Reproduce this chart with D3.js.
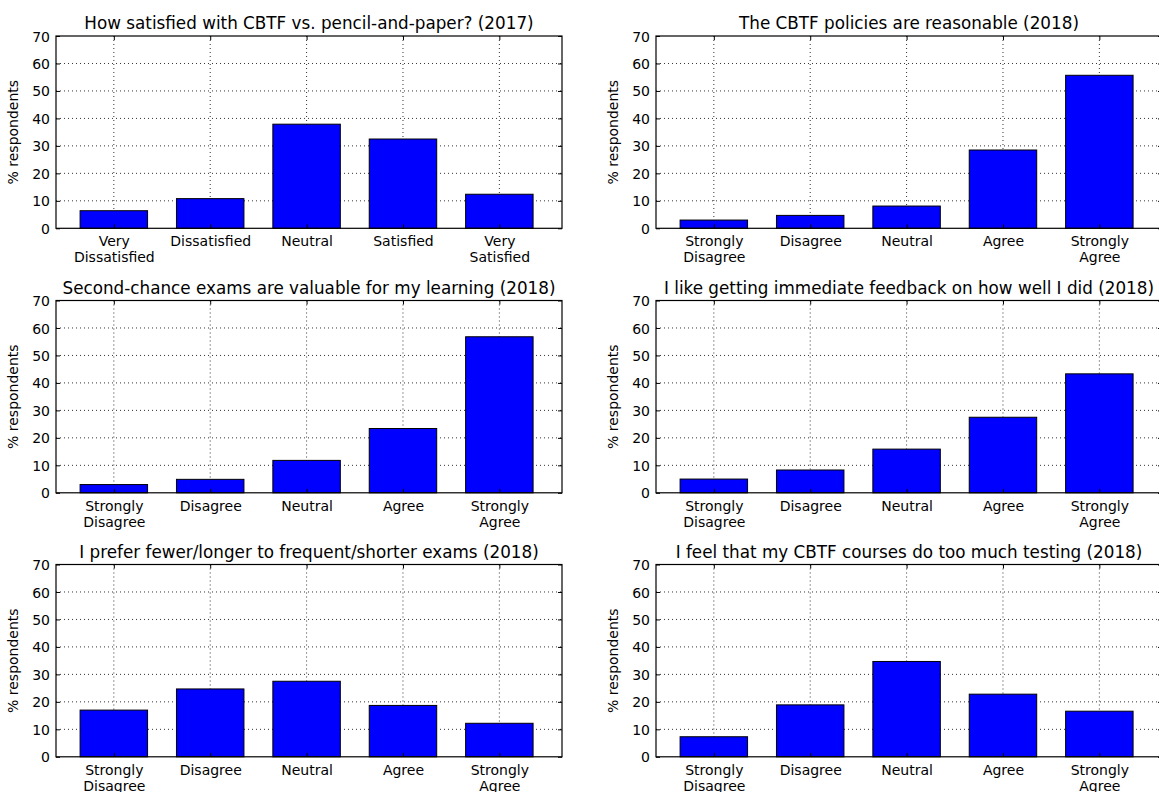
<!DOCTYPE html>
<html>
<head>
<meta charset="utf-8">
<script src="https://cdnjs.cloudflare.com/ajax/libs/d3/7.8.5/d3.min.js"></script>
<style>
  body { margin: 0; background: #fff; }
  svg { display: block; font-family: "DejaVu Sans", sans-serif; }
  .tick line { stroke: #000; }
  .tick text { font-family: "DejaVu Sans", sans-serif; font-size: 14px; fill: #000; }
</style>
</head>
<body>
<div id="chart"></div>
<script>

// survey data, % of respondents per answer
var satisfactionCats = ["Very\nDissatisfied", "Dissatisfied", "Neutral", "Satisfied", "Very\nSatisfied"];
var agreeCats = ["Strongly\nDisagree", "Disagree", "Neutral", "Agree", "Strongly\nAgree"];

var satisfied2017 = [6.4, 10.8, 37.9, 32.5, 12.4];
var policies2018 = [3.0, 4.7, 8.1, 28.5, 55.7];
var secondChance2018 = [3.0, 4.9, 11.8, 23.4, 56.8];
var feedback2018 = [5.0, 8.3, 15.9, 27.5, 43.3];
var fewerLonger2018 = [17.0, 24.7, 27.5, 18.7, 12.2];
var tooMuchTesting2018 = [7.3, 18.9, 34.7, 22.8, 16.6];

var titles = [
  "How satisfied with CBTF vs. pencil-and-paper? (2017)",
  "The CBTF policies are reasonable (2018)",
  "Second-chance exams are valuable for my learning (2018)",
  "I like getting immediate feedback on how well I did (2018)",
  "I prefer fewer/longer to frequent/shorter exams (2018)",
  "I feel that my CBTF courses do too much testing (2018)"
];

var yTicks = [0, 10, 20, 30, 40, 50, 60, 70];

var panels = [
  {title: titles[0], cats: satisfactionCats, values: satisfied2017},
  {title: titles[1], cats: agreeCats, values: policies2018},
  {title: titles[2], cats: agreeCats, values: secondChance2018},
  {title: titles[3], cats: agreeCats, values: feedback2018},
  {title: titles[4], cats: agreeCats, values: fewerLonger2018},
  {title: titles[5], cats: agreeCats, values: tooMuchTesting2018}
];

var W = 1159, H = 792;
var colLeft = [56, 656];
var rowTop = [36, 300.5, 564.5];
var axW = 506, axH = 192.3;

var svg = d3.select("#chart").append("svg")
  .attr("width", W)
  .attr("height", H);

svg.append("rect").attr("width", W).attr("height", H).attr("fill", "#fff");

panels.forEach(function(p, k) {
  var col = k % 2, row = Math.floor(k / 2);
  var g = svg.append("g")
    .attr("transform", "translate(" + colLeft[col] + "," + rowTop[row] + ")");

  var x = d3.scaleLinear().domain([-0.6, 4.65]).range([0, axW]);
  var y = d3.scaleLinear().domain([0, 70]).range([axH, 0]);
  var idx = d3.range(p.cats.length);

  // grid (dotted)
  g.append("g").selectAll("line.hg")
    .data(yTicks.filter(function(t){ return t > 0 && t < 70; }))
    .enter().append("line")
    .attr("x1", 0).attr("x2", axW)
    .attr("y1", function(d){ return y(d); })
    .attr("y2", function(d){ return y(d); })
    .attr("stroke", "#000").attr("stroke-width", 0.8)
    .attr("stroke-dasharray", "1,3");
  g.append("g").selectAll("line.vg")
    .data(idx)
    .enter().append("line")
    .attr("x1", function(d){ return x(d); })
    .attr("x2", function(d){ return x(d); })
    .attr("y1", 0).attr("y2", axH)
    .attr("stroke", "#000").attr("stroke-width", 0.8)
    .attr("stroke-dasharray", "1,3");

  // bars
  g.selectAll("rect.bar")
    .data(p.values)
    .enter().append("rect")
    .attr("class", "bar")
    .attr("x", function(d, i){ return x(i - 0.35); })
    .attr("width", x(0.35) - x(-0.35))
    .attr("y", function(d){ return y(d); })
    .attr("height", function(d){ return axH - y(d); })
    .attr("fill", "#0000ff")
    .attr("stroke", "#000")
    .attr("stroke-width", 1);

  // y axis, ticks inward
  var yAxis = g.append("g")
    .call(d3.axisLeft(y).tickValues(yTicks).tickSize(-4).tickPadding(6));
  yAxis.select(".domain").remove();
  yAxis.selectAll(".tick text").attr("dy", "0.36em");

  var yAxisR = g.append("g")
    .attr("transform", "translate(" + axW + ",0)")
    .call(d3.axisRight(y).tickValues(yTicks).tickSize(-4).tickFormat(""));
  yAxisR.select(".domain").remove();

  // x axis, ticks inward, multi-line labels
  var xAxis = g.append("g")
    .attr("transform", "translate(0," + axH + ")")
    .call(d3.axisBottom(x).tickValues(idx).tickSize(-4).tickFormat(""));
  xAxis.select(".domain").remove();
  xAxis.selectAll(".tick").each(function(d) {
    var lines = p.cats[d].split("\n");
    var t = d3.select(this).append("text")
      .attr("text-anchor", "middle")
      .attr("y", 18);
    lines.forEach(function(s, j) {
      t.append("tspan").attr("x", 0).attr("dy", j ? 16 : 0).text(s);
    });
  });

  var xAxisT = g.append("g")
    .call(d3.axisTop(x).tickValues(idx).tickSize(-4).tickFormat(""));
  xAxisT.select(".domain").remove();

  // frame
  g.append("rect")
    .attr("width", axW).attr("height", axH)
    .attr("fill", "none").attr("stroke", "#000").attr("stroke-width", 1.2);

  // title
  g.append("text")
    .attr("x", axW / 2).attr("y", -7)
    .attr("text-anchor", "middle")
    .attr("font-size", 16.8)
    .text(p.title);

  // y label
  g.append("text")
    .attr("transform", "translate(" + (-38) + "," + (axH / 2) + ") rotate(-90)")
    .attr("text-anchor", "middle")
    .attr("font-size", 14)
    .text("% respondents");
});

</script>
</body>
</html>
